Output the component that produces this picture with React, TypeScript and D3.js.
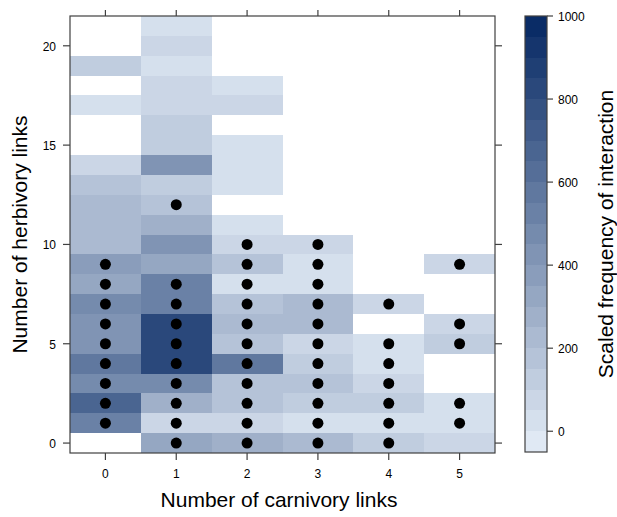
import React from "react";
import * as d3 from "d3";

// herbivory links 0..21 per carnivory column (null = no data)
const carnivory = [0, 1, 2, 3, 4, 5];
const herbivory = d3.range(0, 22);

const freqC0 = [null, 525, 680, 475, 560, 425, 425, 475, 340, 390, 230, 200, 200, 160, 75, null, null, 25, null, 125, null, null];
const freqC1 = [340, 75, 275, 475, 840, 815, 840, 525, 525, 340, 400, 250, 160, 125, 400, 125, 125, 75, 75, 25, 75, 25];
const freqC2 = [290, 75, 160, 160, 580, 160, 230, 160, 25, 160, 75, 25, null, 25, 25, 25, null, 75, 25, null, null, null];
const freqC3 = [200, 25, 125, 160, 125, 75, 200, 200, 25, 25, 75, null, null, null, null, null, null, null, null, null, null, null];
const freqC4 = [125, 25, 125, 75, 25, 25, null, 75, null, null, null, null, null, null, null, null, null, null, null, null, null, null];
const freqC5 = [75, 25, 25, null, null, 125, 75, null, null, 75, null, null, null, null, null, null, null, null, null, null, null, null];
const freqColumns = [freqC0, freqC1, freqC2, freqC3, freqC4, freqC5];

// herbivory values that carry a dot, per carnivory column
const dotsC0 = [1, 2, 3, 4, 5, 6, 7, 8, 9];
const dotsC1 = [0, 1, 2, 3, 4, 5, 6, 7, 8, 12];
const dotsC2 = [0, 1, 2, 3, 4, 5, 6, 7, 8, 9, 10];
const dotsC3 = [0, 1, 2, 3, 4, 5, 6, 7, 8, 9, 10];
const dotsC4 = [0, 1, 2, 3, 4, 5, 7];
const dotsC5 = [1, 2, 5, 6, 9];
const dotColumns = [dotsC0, dotsC1, dotsC2, dotsC3, dotsC4, dotsC5];

const xTicks = [0, 1, 2, 3, 4, 5];
const yTicks = [0, 5, 10, 15, 20];
const colorTicks = [0, 200, 400, 600, 800, 1000];
const colorBreaks = d3.range(-50, 1001, 50);

const W = 617;
const H = 517;
const panel = { left: 70, right: 495, top: 16, bottom: 453 };
const bar = { left: 525, right: 547, top: 16, bottom: 452 };
const FONT = "'Liberation Sans', Arial, Helvetica, sans-serif";

const App: React.FC = () => {
  const x = d3.scaleLinear().domain([-0.5, 5.5]).range([panel.left, panel.right]);
  const y = d3.scaleLinear().domain([-0.5, 21.5]).range([panel.bottom, panel.top]);
  const cv = d3.scaleLinear().domain([-50, 1000]).range([bar.bottom, bar.top]);

  // lattice-style colour ramp, interpolated in RGB
  const nBins = colorBreaks.length - 1;
  const binColors = d3.range(nBins).map((i) => d3.interpolateRgb("#e0e9f4", "#0a2c66")(i / (nBins - 1)));
  const color = d3.scaleThreshold<number, string>().domain(colorBreaks.slice(1, -1)).range(binColors);

  const cells: { cx: number; hy: number; v: number }[] = [];
  freqColumns.forEach((col, ci) =>
    col.forEach((v, hi) => {
      if (v !== null) cells.push({ cx: carnivory[ci], hy: herbivory[hi], v });
    })
  );
  const dots: { cx: number; hy: number }[] = [];
  dotColumns.forEach((col, ci) => col.forEach((h) => dots.push({ cx: carnivory[ci], hy: h })));

  const axisColor = "#404040";

  return (
    <svg width={W} height={H} style={{ position: "absolute", left: 0, top: 0, background: "#fff" }} fontFamily={FONT}>
      {/* heat cells */}
      <g shapeRendering="crispEdges">
        {cells.map((d, i) => (
          <rect
            key={i}
            x={x(d.cx - 0.5)}
            y={y(d.hy + 0.5)}
            width={x(d.cx + 0.5) - x(d.cx - 0.5)}
            height={y(d.hy - 0.5) - y(d.hy + 0.5)}
            fill={color(d.v)}
          />
        ))}
      </g>
      {/* dots */}
      {dots.map((d, i) => (
        <circle key={i} cx={x(d.cx)} cy={y(d.hy)} r={5.5} fill="#000" />
      ))}
      {/* panel border */}
      <rect
        x={panel.left}
        y={panel.top}
        width={panel.right - panel.left}
        height={panel.bottom - panel.top}
        fill="none"
        stroke={axisColor}
        strokeWidth={1.2}
      />
      {/* x ticks */}
      {xTicks.map((t) => (
        <g key={t}>
          <line x1={x(t)} x2={x(t)} y1={panel.bottom} y2={panel.bottom + 7} stroke={axisColor} strokeWidth={1.2} />
          <line x1={x(t)} x2={x(t)} y1={panel.top} y2={panel.top - 6} stroke={axisColor} strokeWidth={1.2} />
          <text x={x(t)} y={panel.bottom + 25} fontSize={12} textAnchor="middle" fill="#000">
            {t}
          </text>
        </g>
      ))}
      {/* y ticks */}
      {yTicks.map((t) => (
        <g key={t}>
          <line x1={panel.left - 7} x2={panel.left} y1={y(t)} y2={y(t)} stroke={axisColor} strokeWidth={1.2} />
          <line x1={panel.right} x2={panel.right + 7} y1={y(t)} y2={y(t)} stroke={axisColor} strokeWidth={1.2} />
          <text x={panel.left - 14} y={y(t) + 5} fontSize={12} textAnchor="end" fill="#000">
            {t}
          </text>
        </g>
      ))}
      {/* axis titles */}
      <text x={279} y={507} fontSize={21} textAnchor="middle" fill="#000">
        Number of carnivory links
      </text>
      <text
        transform={`translate(27,${(panel.top + panel.bottom) / 2}) rotate(-90)`}
        fontSize={21}
        textAnchor="middle"
        fill="#000"
      >
        Number of herbivory links
      </text>
      {/* colour key */}
      <g shapeRendering="crispEdges">
        {binColors.map((c, i) => (
          <rect
            key={i}
            x={bar.left}
            y={cv(colorBreaks[i + 1])}
            width={bar.right - bar.left}
            height={cv(colorBreaks[i]) - cv(colorBreaks[i + 1])}
            fill={c}
          />
        ))}
      </g>
      <rect
        x={bar.left}
        y={bar.top}
        width={bar.right - bar.left}
        height={bar.bottom - bar.top}
        fill="none"
        stroke={axisColor}
        strokeWidth={1.2}
      />
      {colorTicks.map((t) => (
        <g key={t}>
          <line x1={bar.right} x2={bar.right + 6} y1={cv(t)} y2={cv(t)} stroke={axisColor} strokeWidth={1.2} />
          <text x={bar.right + 11} y={cv(t) + 4.5} fontSize={12} fill="#000">
            {t}
          </text>
        </g>
      ))}
      <text
        transform={`translate(613,${(bar.top + bar.bottom) / 2}) rotate(-90)`}
        fontSize={21}
        textAnchor="middle"
        fill="#000"
      >
        Scaled frequency of interaction
      </text>
    </svg>
  );
};

export default App;
